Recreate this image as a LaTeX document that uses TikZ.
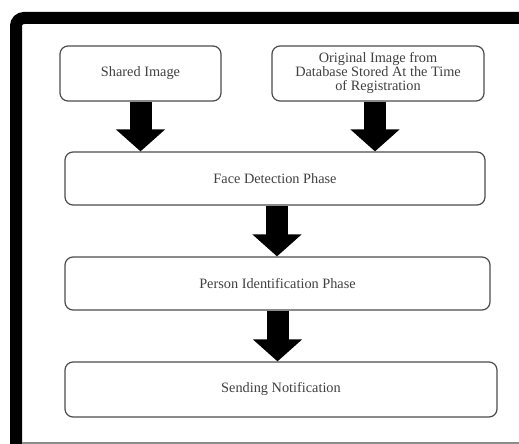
\documentclass[tikz,border=0pt]{standalone}
\usepackage{fontspec}
\setmainfont{Liberation Serif}
\usetikzlibrary{arrows.meta}
\begin{document}
\begin{tikzpicture}[x=1pt,y=1pt,
  boxst/.style={draw=black!70, line width=1.2pt, rounded corners=8pt, fill=white,
    inner sep=0pt, align=center, font=\fontsize{14.3}{14}\selectfont, text=black!75},
  bigarrow/.style={line width=22pt, -{Triangle[width=48pt,length=22pt]}}]
\useasboundingbox (0,0) rectangle (519,-444);
\fill[white] (0,0) rectangle (519,-444);
% frame
\draw[line width=12pt, rounded corners=8pt] (16,-460) -- (16,-18) -- (530,-18);
\draw[black!45, line width=1.5pt] (22,-443) -- (519,-443);
% boxes
\node[boxst, minimum width=161pt, minimum height=55pt] (shared) at (140.5,-73.5) {Shared Image};
\node[boxst, minimum width=212pt, minimum height=55pt] (orig) at (378,-73.5) {Original Image from\\Database Stored At the Time\\of Registration};
\node[boxst, minimum width=420pt, minimum height=53pt] (face) at (275,-178.5) {Face Detection Phase};
\node[boxst, minimum width=425pt, minimum height=53pt] (person) at (277.5,-283.5) {Person Identification Phase};
\node[boxst, minimum width=432pt, minimum height=55pt] (send) at (281,-389.5) {Sending Notification};
% arrows
\draw[bigarrow] (shared.south) -- (shared.south |- face.north);
\draw[bigarrow] ([xshift=-3pt]orig.south) -- ([xshift=-3pt]orig.south |- face.north);
\draw[bigarrow] ([xshift=2pt]face.south) -- ([xshift=2pt]face.south |- person.north);
\draw[bigarrow] (person.south) -- (person.south |- send.north);
\end{tikzpicture}
\end{document}
